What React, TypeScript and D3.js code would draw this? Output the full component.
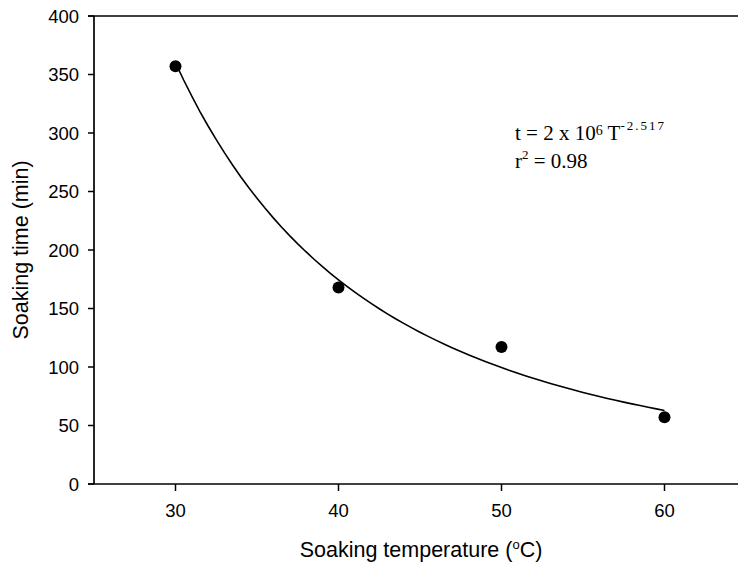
import React from "react";
import * as d3 from "d3";

const temperatures = [30, 40, 50, 60];
const soakingTimes = [357, 168, 117, 57];
const xTicks = [30, 40, 50, 60];
const yTicks = [0, 50, 100, 150, 200, 250, 300, 350, 400];
const fitCoefficient = 1.88e6;
const fitExponent = -2.517;
const curveTemps = d3.range(30, 60.01, 0.5);

const W = 738;
const H = 566;
const left = 94;
const top = 16;
const bottom = 484;

export default function App() {
  const x = d3.scaleLinear().domain([25, 65]).range([left, left + 16.3 * 40]);
  const y = d3.scaleLinear().domain([0, 400]).range([bottom, top]);
  const line = d3
    .line<number>()
    .x((t) => x(t))
    .y((t) => y(fitCoefficient * Math.pow(t, fitExponent)))
    .curve(d3.curveLinear);
  const font = "'Liberation Sans', Arial, sans-serif";
  const serif = "'Liberation Serif', 'Times New Roman', serif";
  return (
    <svg
      width={W}
      height={H}
      style={{ position: "absolute", left: 0, top: 0, background: "#fff" }}
    >
      <path d={line(curveTemps) || ""} fill="none" stroke="#000" strokeWidth={1.6} />
      {temperatures.map((t, i) => (
        <circle key={i} cx={x(t)} cy={y(soakingTimes[i])} r={6} fill="#000" />
      ))}
      {/* axes */}
      <line x1={left} x2={left} y1={top} y2={bottom} stroke="#000" strokeWidth={1.7} />
      <line x1={left - 6} x2={W + 10} y1={bottom} y2={bottom} stroke="#000" strokeWidth={1.7} />
      <line x1={left - 6} x2={W + 10} y1={top} y2={top} stroke="#000" strokeWidth={1.7} />
      {yTicks.map((v) => (
        <g key={v}>
          <line x1={left - 6} x2={left} y1={y(v)} y2={y(v)} stroke="#000" strokeWidth={1.5} />
          <text
            x={79}
            y={y(v)}
            dy="0.36em"
            textAnchor="end"
            fontFamily={font}
            fontSize={18.5}
            fill="#000"
          >
            {v}
          </text>
        </g>
      ))}
      {xTicks.map((v) => (
        <g key={v}>
          <line x1={x(v)} x2={x(v)} y1={bottom} y2={bottom + 7} stroke="#000" strokeWidth={1.5} />
          <text
            x={x(v)}
            y={517}
            textAnchor="middle"
            fontFamily={font}
            fontSize={18.5}
            fill="#000"
          >
            {v}
          </text>
        </g>
      ))}
      <text
        transform={`translate(28,250) rotate(-90)`}
        textAnchor="middle"
        fontFamily={font}
        fontSize={21.5}
        fill="#000"
      >
        Soaking time (min)
      </text>
      <text
        x={421}
        y={557}
        textAnchor="middle"
        fontFamily={font}
        fontSize={21.5}
        fill="#000"
      >
        Soaking temperature (<tspan dy={-8} fontSize={13}>o</tspan>
        <tspan dy={8}>C)</tspan>
      </text>
      <text x={515} y={140} fontFamily={serif} fontSize={21} fill="#000">
        t = 2 x 10<tspan dy={-5} fontSize={14}>6</tspan>
        <tspan dy={5}> T</tspan>
        <tspan dy={-10} fontSize={13} letterSpacing={2}>-2.517</tspan>
      </text>
      <text x={515} y={168} fontFamily={serif} fontSize={21} fill="#000">
        r<tspan dy={-9} fontSize={13}>2</tspan>
        <tspan dy={9}> = 0.98</tspan>
      </text>
    </svg>
  );
}
